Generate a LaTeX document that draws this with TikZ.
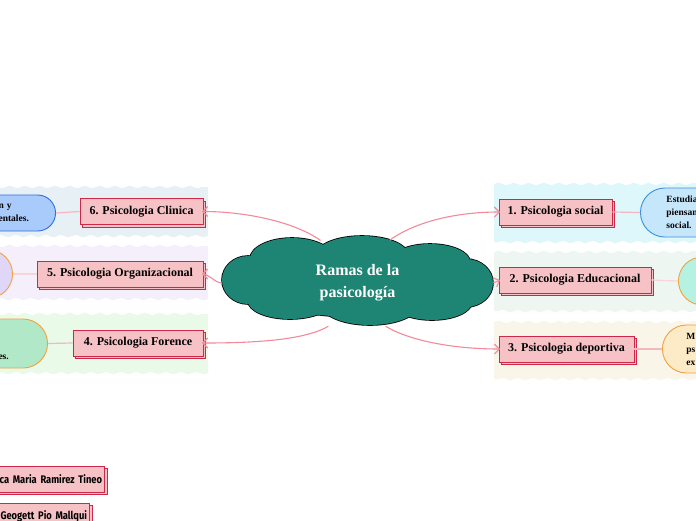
\documentclass[tikz,border=0pt]{standalone}
\usepackage{fontspec}
\setmainfont{Liberation Serif}
\newfontfamily\namefont{Fira Sans}[FakeStretch=0.85]
\usetikzlibrary{shapes.geometric,shadows,arrows.meta,decorations.pathmorphing}
\definecolor{cloudc}{RGB}{30,133,116}
\definecolor{boxf}{RGB}{246,194,198}
\definecolor{boxd}{RGB}{206,40,72}
\definecolor{linkc}{RGB}{242,138,154}
\definecolor{sublinkc}{RGB}{244,182,192}
\definecolor{bandA}{RGB}{222,247,251}
\definecolor{bandB}{RGB}{238,246,241}
\definecolor{bandC}{RGB}{250,245,233}
\definecolor{bandD}{RGB}{231,240,245}
\definecolor{bandE}{RGB}{244,239,251}
\definecolor{bandF}{RGB}{233,250,233}
\definecolor{subAf}{RGB}{198,231,251}
\definecolor{subAd}{RGB}{60,143,217}
\definecolor{subBf}{RGB}{182,242,226}
\definecolor{subCf}{RGB}{253,234,199}
\definecolor{orangeb}{RGB}{240,162,64}
\definecolor{subDf}{RGB}{169,203,251}
\definecolor{subDd}{RGB}{47,111,221}
\definecolor{subEf}{RGB}{224,214,248}
\definecolor{subFf}{RGB}{176,232,200}
\begin{document}
\begin{tikzpicture}[x=1pt,y=-1pt,
  wv/.style={decoration={snake,amplitude=1.3pt,segment length=15pt}},
  branch/.style={draw=boxd, fill=boxf, line width=0.9pt, minimum height=26pt,
    inner sep=0pt, font=\bfseries\fontsize{12}{14}\selectfont,
    copy shadow={shadow xshift=2.5pt, shadow yshift=-2.5pt}},
  namebox/.style={draw=boxd, fill=boxf, line width=0.9pt, minimum height=26pt,
    inner sep=0pt, font=\namefont\bfseries\fontsize{11}{12}\selectfont,
    copy shadow={shadow xshift=2.5pt, shadow yshift=-2.5pt}},
  link/.style={draw=linkc, line width=1.1pt, -{Straight Barb[length=5pt,width=10pt]}},
  sublink/.style={draw=sublinkc, line width=1.2pt},
  subtxt/.style={font=\bfseries\fontsize{9.5}{13}\selectfont, align=left}
]
\useasboundingbox (0,0) rectangle (696,520);
\clip (0,0) rectangle (696,520);
\fill[white] (0,0) rectangle (696,520);

% wavy bands
\fill[bandA] (494,184) decorate[wv]{-- (710,184)} -- (710,242) decorate[wv]{-- (494,242)} -- cycle;
\fill[bandB] (494,252) decorate[wv]{-- (710,252)} -- (710,311) decorate[wv]{-- (494,311)} -- cycle;
\fill[bandC] (494,322) decorate[wv]{-- (710,322)} -- (710,379) decorate[wv]{-- (494,379)} -- cycle;
\fill[bandD] (-10,187) decorate[wv]{-- (208,187)} -- (208,236) decorate[wv]{-- (-10,236)} -- cycle;
\fill[bandE] (-10,246) decorate[wv]{-- (208,246)} -- (208,299) decorate[wv]{-- (-10,299)} -- cycle;
\fill[bandF] (-10,314) decorate[wv]{-- (208,314)} -- (208,373) decorate[wv]{-- (-10,373)} -- cycle;

% central cloud (union of lobes: outline, then fill)
\foreach \cx/\cy/\rx/\ry in {357/281/110/36, 248/280/26/24, 292/259/42/21, 362/255/46/19,
    430/262/40/18, 466/283/27/24, 432/302/40/18, 370/305/48/20, 290/301/42/18}
  \draw[black, line width=1.6pt] (\cx,\cy) ellipse [x radius=\rx, y radius=\ry];
\foreach \cx/\cy/\rx/\ry in {357/281/110/36, 248/280/26/24, 292/259/42/21, 362/255/46/19,
    430/262/40/18, 466/283/27/24, 432/302/40/18, 370/305/48/20, 290/301/42/18}
  \fill[cloudc] (\cx,\cy) ellipse [x radius=\rx, y radius=\ry];
\node[ellipse, minimum width=271pt, minimum height=88pt, inner sep=0pt,
  text=white, align=center, font=\bfseries\fontsize{16}{22}\selectfont]
  (root) at (357.5,283) {Ramas de la\\pasicología};

% branches
\node[branch, minimum width=113pt] (b1) at (555.5,212) {1. Psicologia social};
\node[branch, minimum width=152pt] (b2) at (575,280) {2. Psicologia Educacional};
\node[branch, minimum width=135pt] (b3) at (566.5,349) {3. Psicologia deportiva};
\node[branch, minimum width=123pt] (b6) at (141.5,211.5) {6. Psicologia Clinica};
\node[branch, minimum width=166pt] (b5) at (120,274) {5. Psicologia Organizacional};
\node[branch, minimum width=130pt] (b4) at (138,343) {4. Psicologia Forence};

% subtopics
\node[subtxt, draw=subAd, fill=subAf, line width=0.9pt, rounded corners=24.5pt,
  minimum height=49pt, text width=80pt, inner xsep=26pt, inner ysep=0pt, anchor=west]
  (s1) at (640,212.5) {Estudia\\piensan\\social.};
\node[draw=orangeb, fill=subBf, line width=0.9pt, rounded corners=24pt,
  minimum height=48pt, minimum width=120pt, anchor=west] (s2) at (678,281) {};
\node[subtxt, draw=orangeb, fill=subCf, line width=0.9pt, rounded corners=24pt,
  minimum height=48pt, text width=80pt, inner xsep=24pt, inner ysep=0pt, anchor=west]
  (s3) at (662,349) {M\\ps\\ex};
\node[subtxt, draw=subDd, fill=subDf, line width=0.9pt, rounded corners=18pt,
  minimum height=36pt, text width=40pt, inner xsep=17pt, inner ysep=0pt, anchor=east]
  (s6) at (56,213) {n y\\entales.};
\node[draw=orangeb, fill=subEf, line width=0.9pt, rounded corners=24pt,
  minimum height=48pt, minimum width=120pt, anchor=east] (s5) at (13,274) {};
\node[draw=orangeb, fill=subFf, line width=0.9pt, rounded corners=24.5pt,
  minimum height=49pt, minimum width=120pt, anchor=east] (s4) at (48,343.5) {};
\node[subtxt, anchor=east, inner sep=0pt] (t4) at (9,357) {es.};

% sub links
\draw[sublink] (b1.east) -- (s1.west);
\draw[sublink, draw=sublinkc!60] (b2.east) -- (s2.west);
\draw[sublink] (b3.east) -- (s3.west);
\draw[sublink] (s6.east) -- (b6.west);
\draw[sublink, draw=sublinkc!60] (s5.east) -- (b5.west);
\draw[sublink] (s4.east) -- (b4.west);

% main links
\draw[link] (root.131) .. controls +(-25,-18) and +(45,0) .. ([xshift=-1.5pt]b6.east);
\draw[link] (root.west) .. controls +(-6,0) and +(6,0) .. ([xshift=-1.5pt]b5.east);
\draw[link] (root.236) .. controls +(-25,15) and +(45,0) .. ([xshift=-1.5pt]b4.east);
\draw[link] (root.53) .. controls +(25,-18) and +(-45,0) .. ([xshift=1.5pt]b1.west);
\draw[link] (root.east) -- ([xshift=1.5pt]b2.west);
\draw[link] (root.303) .. controls +(25,15) and +(-45,0) .. ([xshift=1.5pt]b3.west);

% name boxes
\node[namebox, minimum width=170pt, text width=165pt, align=right, anchor=east]
  (n1) at (105,479) {ca Maria Ramirez Tineo};
\node[namebox, minimum width=170pt, text width=165pt, align=right, anchor=east]
  (n2) at (90,516) {Geogett Pio Mallqui};
\end{tikzpicture}
\end{document}
